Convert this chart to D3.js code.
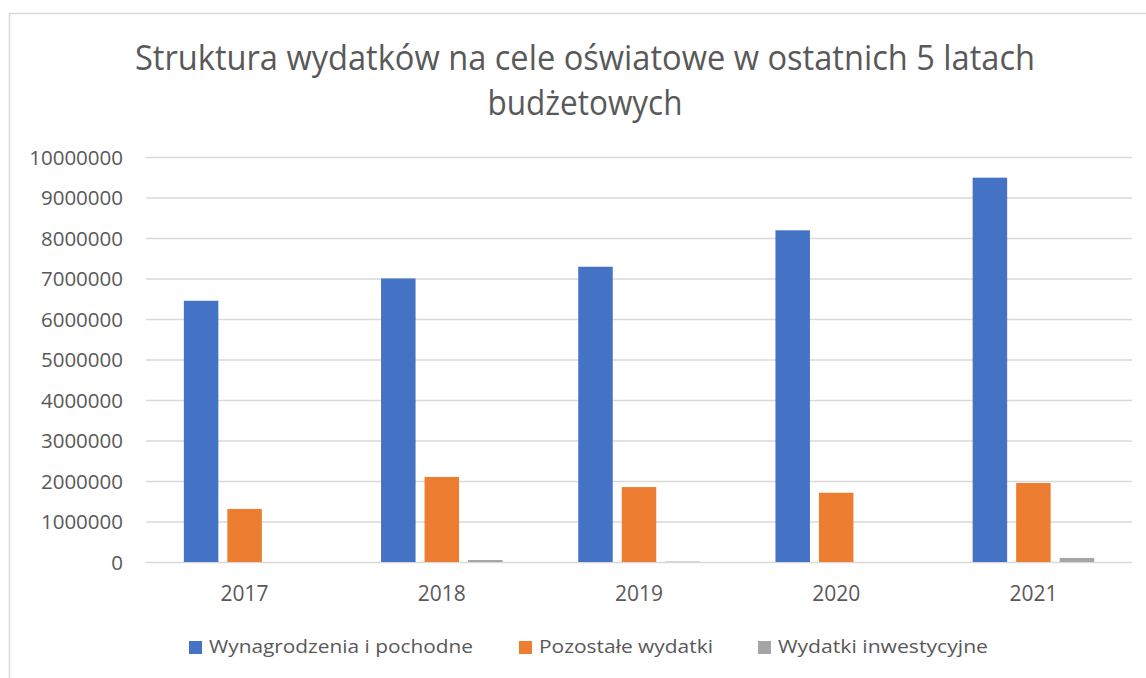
<!DOCTYPE html>
<html>
<head>
<meta charset="utf-8">
<script src="https://cdn.jsdelivr.net/npm/d3@7"></script>
<style>
  html, body { margin: 0; padding: 0; background: #ffffff; }
  svg { display: block; }
  text { font-family: "Open Sans", "Noto Sans", sans-serif; fill: #595959; }
</style>
</head>
<body>
<svg id="chart" width="1146" height="678"></svg>
<script>
// ---- data ----
const titleLines = ["Struktura wydatków na cele oświatowe w ostatnich 5 latach", "budżetowych"];
const years = ["2017", "2018", "2019", "2020", "2021"];
const seriesNames = ["Wynagrodzenia i pochodne", "Pozostałe wydatki", "Wydatki inwestycyjne"];
const wynagrodzenia = [6450000, 7000000, 7290000, 8190000, 9490000];
const pozostale = [1310000, 2100000, 1850000, 1710000, 1950000];
const inwestycyjne = [0, 50000, 10000, 0, 100000];
const yTicks = [0, 1000000, 2000000, 3000000, 4000000, 5000000, 6000000, 7000000, 8000000, 9000000, 10000000];
const colors = ["#4472C4", "#ED7D31", "#A5A5A5"];

const seriesValues = [wynagrodzenia, pozostale, inwestycyjne];
const rows = years.map((y, i) => ({ year: y, values: seriesNames.map((s, k) => ({ key: s, value: seriesValues[k][i], color: colors[k] })) }));

const svg = d3.select("#chart");

// chart area border
svg.append("rect")
  .attr("x", 9.5).attr("y", 13.5).attr("width", 1160).attr("height", 700)
  .attr("fill", "#ffffff").attr("stroke", "#d9d9d9").attr("stroke-width", 1.5);

// title
const titleBase = [70, 115];
const titleWidths = [900, 195];
titleLines.forEach((t, i) => {
  svg.append("text")
    .attr("x", 585).attr("y", titleBase[i])
    .attr("text-anchor", "middle")
    .attr("font-size", 34)
    .attr("textLength", titleWidths[i])
    .attr("lengthAdjust", "spacingAndGlyphs")
    .text(t);
});

// scales
const plotLeft = 146, plotRight = 1132, plotTop = 157, plotBottom = 562;
const y = d3.scaleLinear().domain([0, 10000000]).range([plotBottom, plotTop]);
const x0 = d3.scaleBand().domain(years).range([plotLeft, plotRight]).paddingInner(0).paddingOuter(0);
const x1 = d3.scaleBand().domain(seriesNames).range([0, x0.bandwidth()]).paddingInner(0.207).paddingOuter(0.87);

// gridlines
const yAxis = d3.axisLeft(y).tickValues(yTicks).tickFormat(d3.format("d")).tickSize(-(plotRight - plotLeft)).tickPadding(23);
const gy = svg.append("g").attr("transform", `translate(${plotLeft},0)`).call(yAxis);
gy.select(".domain").remove();
gy.selectAll(".tick line").attr("stroke", "#d9d9d9").attr("stroke-width", 1.5);
gy.selectAll(".tick text").attr("font-size", 20.5).attr("fill", "#595959").attr("dy", "0.36em")
  .style("font-family", "'Open Sans', sans-serif");

// bars
const groups = svg.append("g").selectAll("g").data(rows).join("g")
  .attr("transform", d => `translate(${x0(d.year)},0)`);
groups.selectAll("rect").data(d => d.values).join("rect")
  .attr("x", d => x1(d.key))
  .attr("width", x1.bandwidth())
  .attr("y", d => y(d.value))
  .attr("height", d => y(0) - y(d.value))
  .attr("fill", d => d.color);

// x axis labels
const xAxis = d3.axisBottom(x0).tickSize(0).tickPadding(24);
const gx = svg.append("g").attr("transform", `translate(0,${plotBottom})`).call(xAxis);
gx.select(".domain").remove();
gx.selectAll(".tick text").attr("font-size", 21).attr("fill", "#595959")
  .style("font-family", "'Open Sans', sans-serif");

// legend
const legendWidths = [264, 174, 210];
const legendGaps = [46, 45, 0];
const legend = svg.append("g");
let lx = 189;
seriesNames.forEach((s, i) => {
  legend.append("rect").attr("x", lx).attr("y", 641).attr("width", 13).attr("height", 13).attr("fill", colors[i]);
  legend.append("text").attr("x", lx + 20).attr("y", 653)
    .attr("font-size", 19)
    .attr("textLength", legendWidths[i])
    .attr("lengthAdjust", "spacingAndGlyphs")
    .text(s);
  lx += 20 + legendWidths[i] + legendGaps[i];
});
</script>
</body>
</html>
